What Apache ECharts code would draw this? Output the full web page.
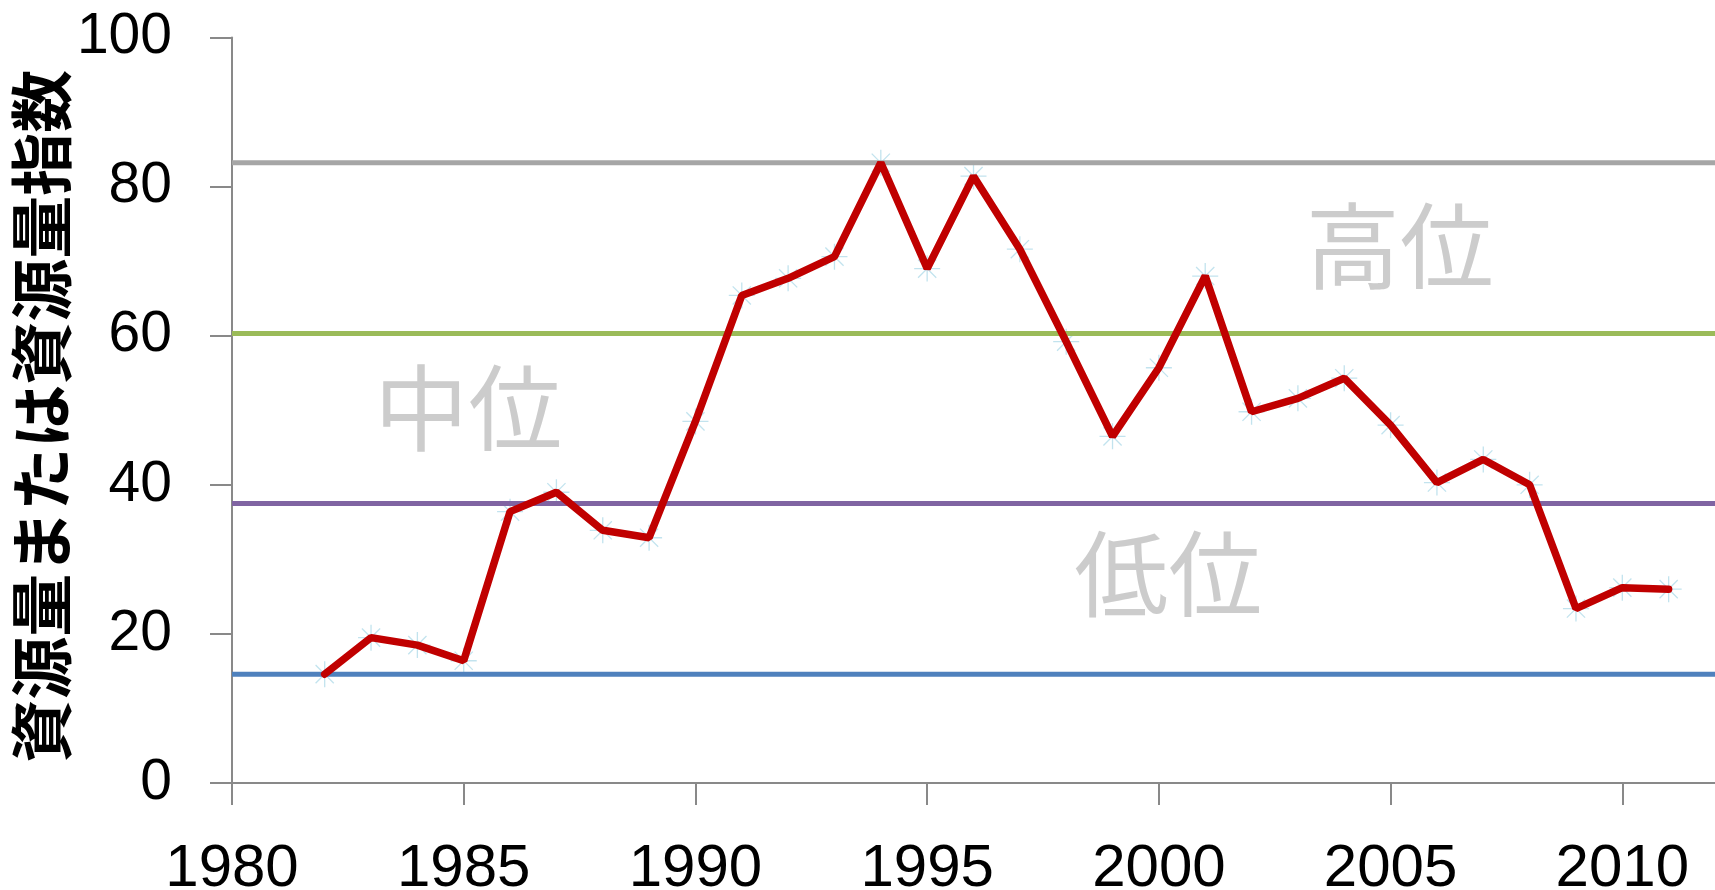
<!DOCTYPE html>
<html>
<head>
<meta charset="utf-8">
<script src="https://cdn.jsdelivr.net/npm/echarts@6/dist/echarts.min.js"></script>
<style>
  html, body { margin: 0; padding: 0; background: #fff; }
  #chart { width: 1715px; height: 890px; }
</style>
</head>
<body>
<div id="chart"></div>
<script>
// 資源量の推移
const years = [1982, 1983, 1984, 1985, 1986, 1987, 1988, 1989, 1990, 1991,
  1992, 1993, 1994, 1995, 1996, 1997, 1998, 1999, 2000, 2001,
  2002, 2003, 2004, 2005, 2006, 2007, 2008, 2009, 2010, 2011];
const values = [14.6, 19.5, 18.5, 16.4, 36.4, 39.0, 33.9, 32.9, 48.5, 65.4,
  67.7, 70.6, 83.2, 69.0, 81.4, 71.6, 59.2, 46.5, 55.7, 68.0,
  49.8, 51.6, 54.3, 48.0, 40.3, 43.4, 40.0, 23.4, 26.2, 26.0];

// 基準線 (最大・高位/中位・中位/低位・最小)
const levelValues = [83.2, 60.3, 37.5, 14.6];
const levelColors = ['#a6a6a6', '#9bbb59', '#8064a2', '#4f81bd'];

// 水準の文字
const zoneNames = ['高位', '中位', '低位'];
const zoneYears = [2005.2, 1985.1, 2000.2];
const zoneValues = [72.0, 50.2, 28.0];

const xTicks = [1980, 1985, 1990, 1995, 2000, 2005, 2010];
const xMin = 1980;
const xMax = 2012;

const chart = echarts.init(document.getElementById('chart'));

const asterisk = 'path://M0,10L20,10M10,0L10,20M3,3L17,17M3,17L17,3';

const levelSeries = levelValues.map((v, i) => ({
  type: 'line',
  data: [[xMin, v], [xMax, v]],
  showSymbol: false,
  silent: true,
  z: 2,
  lineStyle: { color: levelColors[i], width: 5 },
}));

chart.setOption({
  animation: false,
  grid: {
    left: 232,
    right: 0,
    top: 37.5,
    bottom: 107,
    containLabel: false,
    outerBoundsMode: 'none',
  },
  xAxis: {
    type: 'value',
    min: xMin,
    max: xMax,
    axisLine: { lineStyle: { color: '#898989', width: 2 } },
    axisTick: {
      length: 22,
      customValues: xTicks,
      lineStyle: { color: '#898989', width: 2 },
    },
    axisLabel: {
      customValues: xTicks,
      formatter: (v) => String(v),
      margin: 56,
      fontSize: 60,
      fontFamily: 'Liberation Sans',
      color: '#000',
    },
    splitLine: { show: false },
  },
  yAxis: {
    type: 'value',
    min: 0,
    max: 100,
    interval: 20,
    name: '資源量または資源量指数',
    nameLocation: 'middle',
    nameGap: 159,
    nameMoveOverlap: false,
    nameTextStyle: {
      fontSize: 63,
      fontWeight: 'bold',
      fontFamily: 'Noto Sans CJK JP',
      color: '#000',
      padding: [0, 12, 0, 0],
    },
    axisLine: { show: true, lineStyle: { color: '#898989', width: 2 } },
    axisTick: { show: true, length: 22, lineStyle: { color: '#898989', width: 2 } },
    axisLabel: {
      margin: 60,
      fontSize: 57,
      fontFamily: 'Liberation Sans',
      color: '#000',
    },
    splitLine: { show: false },
  },
  series: [
    ...levelSeries,
    {
      type: 'scatter',
      data: years.map((y, i) => [y, values[i]]),
      symbol: asterisk,
      symbolSize: 26,
      silent: true,
      z: 1,
      itemStyle: { color: 'transparent', borderColor: '#b3dcea', borderWidth: 1.3 },
    },
    {
      type: 'line',
      data: years.map((y, i) => [y, values[i]]),
      showSymbol: false,
      z: 4,
      lineStyle: { color: '#c00000', width: 7.5, cap: 'round' },
    },
    {
      type: 'scatter',
      data: zoneNames.map((n, i) => [zoneYears[i], zoneValues[i], n]),
      symbolSize: 1,
      silent: true,
      z: 5,
      itemStyle: { color: 'transparent' },
      label: {
        show: true,
        position: 'inside',
        formatter: (p) => p.data[2],
        fontSize: 94,
        fontFamily: 'Noto Sans CJK JP',
        color: '#bfbfbf',
      },
    },
  ],
});
</script>
</body>
</html>
